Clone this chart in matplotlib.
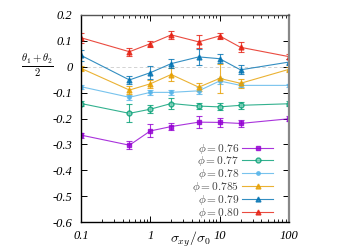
import numpy as np
import matplotlib
matplotlib.use("Agg")
from matplotlib import pyplot as plt
from matplotlib.lines import Line2D

plt.rcParams['mathtext.fontset'] = 'cm'

# shear stress ratio
x = [0.1, 0.5, 1, 2, 5, 10, 20, 100]

phi_labels = ['0.76', '0.77', '0.78', '0.785', '0.79', '0.80']

y_076 = [-0.264, -0.303, -0.248, -0.231, -0.214, -0.215, -0.219, -0.201]
e_076 = [0.010, 0.015, 0.025, 0.013, 0.022, 0.017, 0.013, 0.010]
y_077 = [-0.142, -0.180, -0.164, -0.142, -0.152, -0.155, -0.149, -0.143]
e_077 = [0.010, 0.035, 0.015, 0.020, 0.013, 0.014, 0.014, 0.010]
y_078 = [-0.077, -0.118, -0.099, -0.099, -0.093, -0.055, -0.072, -0.072]
e_078 = [0.008, 0.010, 0.010, 0.010, 0.013, 0.012, 0.008, 0.005]
y_0785 = [-0.006, -0.090, -0.066, -0.030, -0.079, -0.045, -0.064, -0.010]
e_0785 = [0.010, 0.016, 0.015, 0.027, 0.015, 0.056, 0.018, 0.010]
y_079 = [0.044, -0.051, -0.023, 0.012, 0.038, 0.031, -0.012, 0.018]
e_079 = [0.020, 0.017, 0.026, 0.016, 0.032, 0.017, 0.017, 0.010]
y_080 = [0.112, 0.058, 0.089, 0.123, 0.096, 0.119, 0.075, 0.039]
e_080 = [0.020, 0.015, 0.012, 0.014, 0.025, 0.013, 0.020, 0.010]

series = [y_076, y_077, y_078, y_0785, y_079, y_080]
errs = [e_076, e_077, e_078, e_0785, e_079, e_080]
colors = ['#9400d3', '#009e73', '#56b4e9', '#e69f00', '#0072b2', '#e51e10']
markers = ['s', 'o', 'o', '^', '^', '^']
msizes = [3.5, 3.5, 2.5, 3.5, 3.5, 3.5]

fig = plt.figure(figsize=(3.52, 2.49), dpi=100)
ax = fig.add_axes([0.230, 0.108, 0.591, 0.832])

ax.axhline(0, color='#cccccc', lw=0.6, ls=(0, (4, 3)), zorder=0)

handles = []
for ys, es, c, m, ms, lab in zip(series, errs, colors, markers, msizes, phi_labels):
    mfc = c if lab != '0.77' else '#7fcfb9'
    ax.errorbar(x, ys, yerr=es, color=c, marker=m, ms=ms, mfc=mfc, mec=c,
                lw=0.8, elinewidth=0.8, capsize=2, capthick=0.8, alpha=0.8)
    handles.append(Line2D([0, 0.5, 1], [0, 0, 0], color=c, lw=0.8, marker=m,
                          ms=ms, mfc=mfc, mec=c, markevery=[1], alpha=0.8,
                          label=r'$\phi = %s$' % lab))

ax.set_xscale('log')
ax.set_xlim(0.1, 100)
ax.set_ylim(-0.6, 0.2)
ax.set_yticks(np.arange(-0.6, 0.21, 0.1))
ax.set_yticklabels(['-0.6', '-0.5', '-0.4', '-0.3', '-0.2', '-0.1', '0', '0.1', '0.2'])
ax.set_xticks([0.1, 1, 10, 100])
ax.set_xticklabels(['0.1', '1', '10', '100'])

ax.tick_params(which='both', direction='in', top=True, right=True)
ax.tick_params(which='major', length=4, width=0.7, pad=6)
ax.tick_params(which='minor', length=2, width=0.6)
for lbl in ax.get_xticklabels() + ax.get_yticklabels():
    lbl.set_family('Liberation Serif')
    lbl.set_style('italic')
    lbl.set_fontsize(9)

for s in ax.spines.values():
    s.set_linewidth(1.0)
ax.spines['top'].set_color('#555555')
ax.spines['right'].set_color('#888888')
ax.spines['right'].set_linewidth(1.6)

fig.text(190 / 352, 1 - 239 / 249, r'$\sigma_{xy}/\sigma_0$', fontsize=10,
         ha='center', va='center')
fig.text(37 / 352, 1 - 66 / 249, r'$\frac{\theta_1+\theta_2}{2}$', fontsize=11,
         ha='center', va='center')

leg = ax.legend(handles=handles, loc='lower right', bbox_to_anchor=(0.935, 0.0),
                frameon=False, fontsize=8.2, markerfirst=False,
                handlelength=2.7, labelspacing=-0.1, borderaxespad=0,
                borderpad=0.2, handletextpad=0.3)
for t in leg.get_texts():
    t.set_color('#444444')

fig.savefig('out.png', dpi=100)
